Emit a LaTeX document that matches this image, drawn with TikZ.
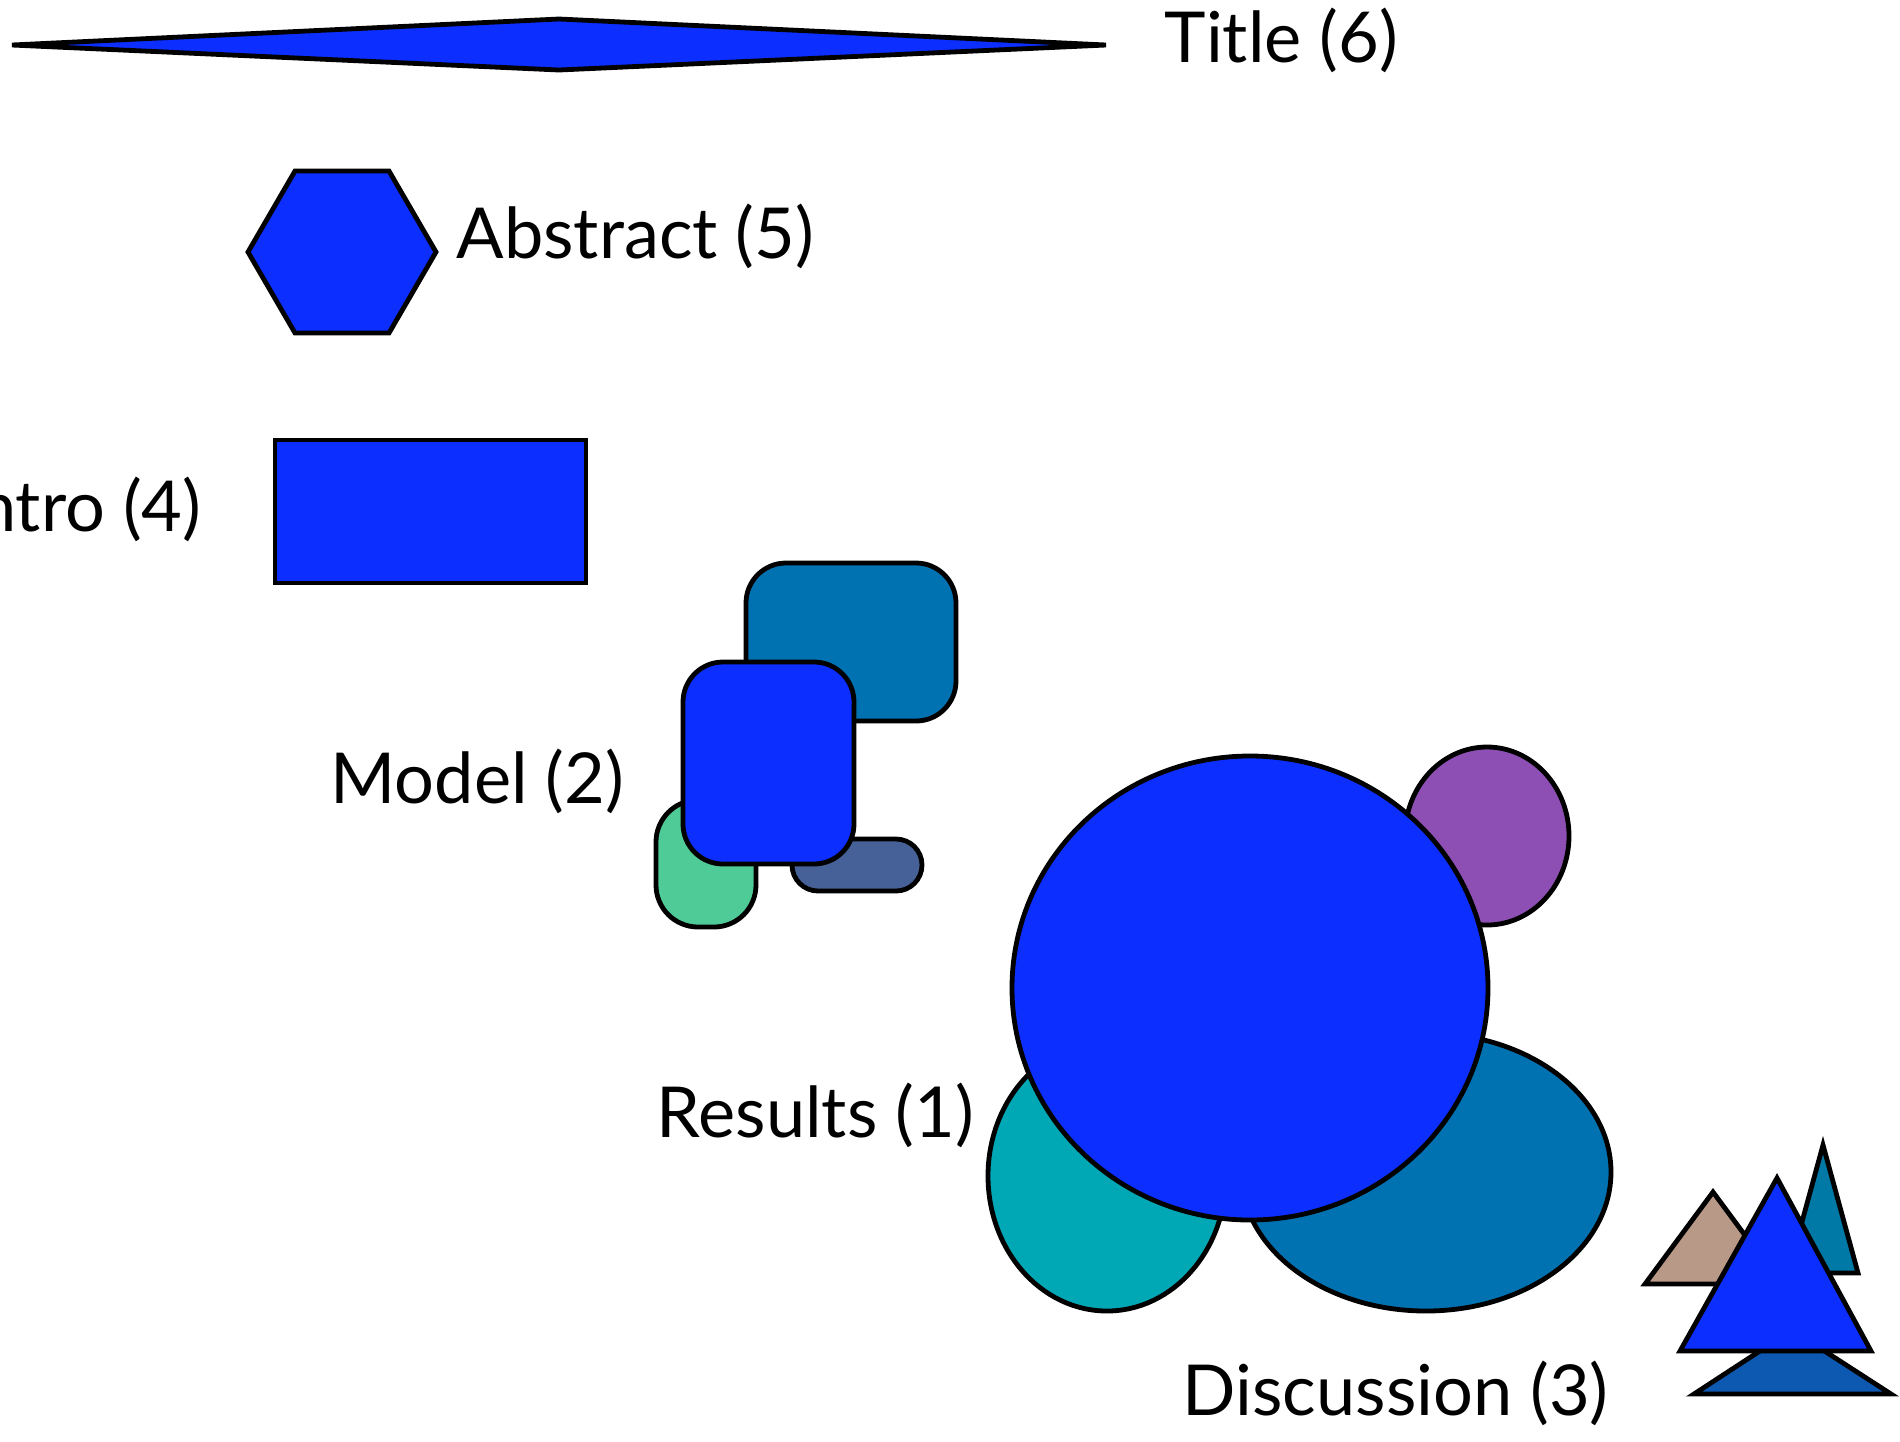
\documentclass[tikz,border=0pt]{standalone}
\usepackage{fontspec}
\setmainfont{Lato}
\definecolor{sectionblue}{HTML}{0C2EFF}
\definecolor{oceanblue}{HTML}{0072B2}
\definecolor{mintgreen}{HTML}{4FCB98}
\definecolor{slateblue}{HTML}{466197}
\definecolor{plumpurple}{HTML}{8D4FB3}
\definecolor{lagooncyan}{HTML}{00A7B5}
\definecolor{sandtan}{HTML}{B89886}
\definecolor{petrolteal}{HTML}{0079A6}
\definecolor{deepblue}{HTML}{0D58B0}

\begin{document}
\begin{tikzpicture}[
  x=0.1mm,
  y=-0.1mm,
  blob/.style={draw=black,line width=0.48mm},
  sectiontext/.style={font=\fontsize{20}{24}\selectfont,inner sep=0pt}
]
  \useasboundingbox (0,0) rectangle (1900,1441);
  \clip (0,0) rectangle (1900,1441);

  % Title: one flat diamond.
  \draw[blob,fill=sectionblue] (12,45) -- (559,19) -- (1106,45) -- (559,70) -- cycle;
  \node[sectiontext,anchor=base west] (title) at (1164,62) {Title (6)};

  % Abstract: a hexagon.
  \draw[blob,fill=sectionblue] (248,252) -- (295,171) -- (389,171) -- (436,252)
    -- (389,333) -- (295,333) -- cycle;
  \node[sectiontext,anchor=base west] (abstract) at (456,258) {Abstract (5)};

  % Intro: a plain rectangle, its label running off the left edge.
  \draw[blob,fill=sectionblue] (275,440) rectangle (586,583);
  \node[sectiontext,anchor=base east] (intro) at (202,531) {Intro (4)};

  % Model: rounded boxes stacked on one another.
  \draw[blob,fill=oceanblue,rounded corners=4mm] (746,563) rectangle (956,721);
  \draw[blob,fill=mintgreen,rounded corners=4.2mm] (656,800) rectangle (756,927);
  \draw[blob,fill=slateblue,rounded corners=2.6mm] (792,839) rectangle (922,891);
  \draw[blob,fill=sectionblue,rounded corners=4mm] (683,662) rectangle (854,864);
  \node[sectiontext,anchor=base west] (model) at (330,803) {Model (2)};

  % Results: ellipses round one large circle.
  \draw[blob,fill=plumpurple] (1487,836) ellipse[x radius=82,y radius=89];
  \draw[blob,fill=lagooncyan] (1107,1176) ellipse[x radius=119,y radius=135];
  \draw[blob,fill=oceanblue] (1426,1172) ellipse[x radius=185,y radius=139];
  \draw[blob,fill=sectionblue] (1250,988) ellipse[x radius=238,y radius=232];
  \node[sectiontext,anchor=base west] (results) at (656,1137) {Results (1)};

  % Discussion: a little heap of triangles.
  \draw[blob,fill=deepblue] (1694,1394) -- (1792,1330) -- (1891,1394) -- cycle;
  \draw[blob,fill=sandtan] (1645,1284) -- (1713,1192) -- (1781,1284) -- cycle;
  \draw[blob,fill=petrolteal] (1788,1273) -- (1823,1145) -- (1858,1273) -- cycle;
  \draw[blob,fill=sectionblue] (1680,1351) -- (1777,1178) -- (1871,1351) -- cycle;
  \node[sectiontext,anchor=base west] (discussion) at (1182,1415) {Discussion (3)};
\end{tikzpicture}
\end{document}
